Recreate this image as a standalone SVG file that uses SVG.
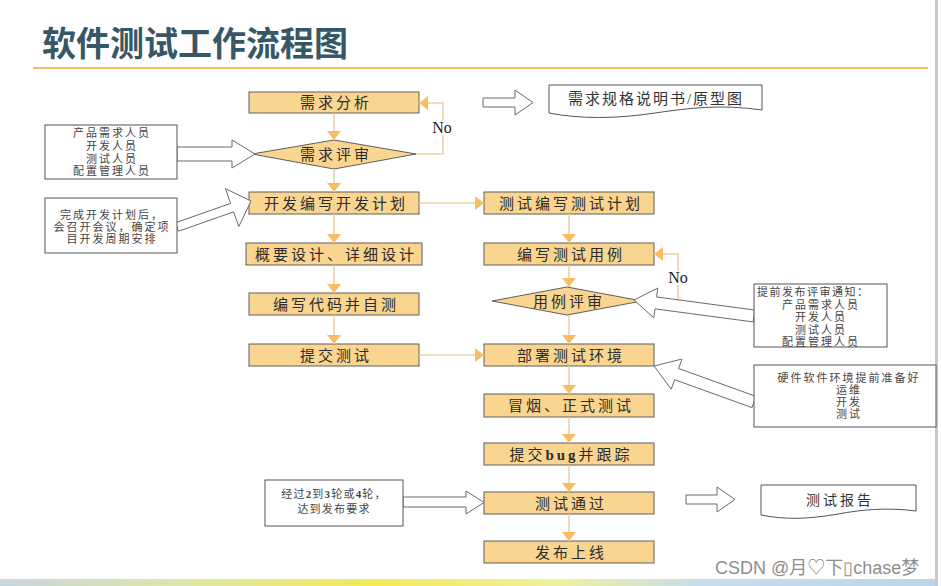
<svg xmlns="http://www.w3.org/2000/svg" width="941" height="586" viewBox="0 0 941 586">
<defs>
<linearGradient id="bar" x1="0" x2="1" y1="0" y2="0">
<stop offset="0" stop-color="#c8d5dd"/>
<stop offset="0.2" stop-color="#dfe6a8"/>
<stop offset="0.4" stop-color="#f3ea55"/>
<stop offset="0.6" stop-color="#eef0a0"/>
<stop offset="0.75" stop-color="#c7dcec"/>
<stop offset="1" stop-color="#bcd3ea"/>
</linearGradient>
<marker id="ah" viewBox="0 0 9 14" refX="9" refY="7" markerWidth="9" markerHeight="14" markerUnits="userSpaceOnUse" orient="auto">
<path d="M0,0 L9,7 L0,14 z" fill="#f9bc63"/>
</marker>
</defs>
<style>
.box{fill:#fad590;stroke:#5e5e5e;stroke-width:1}
.lbl{font-family:"Liberation Serif","Noto Sans CJK SC",serif;font-size:15px;fill:#2b2b2b;text-anchor:middle;letter-spacing:3px}
.note{fill:#fff;stroke:#555;stroke-width:1}
.nt{font-family:"Liberation Serif","Noto Sans CJK SC",serif;font-size:11px;fill:#444;text-anchor:middle;letter-spacing:2px}
.blk{fill:#fff;stroke:#6a6a6a;stroke-width:1}
.con{fill:none;stroke:#edd0a6;stroke-width:1.6}
.no{font-family:"Liberation Serif",serif;font-size:16px;fill:#222;text-anchor:middle}
</style>
<rect x="0" y="0" width="941" height="586" fill="#fff"/>
<rect x="935" y="0" width="3" height="586" fill="#c8c8c8"/>
<rect x="0" y="579" width="935" height="7" fill="url(#bar)"/>
<g id="title">
<text x="42" y="56" font-family="Noto Sans CJK SC, sans-serif" font-size="34" font-weight="bold" fill="#355766">软件测试工作流程图</text>
<line x1="33" y1="68" x2="928" y2="68" stroke="#f0a632" stroke-width="1.5"/>
</g>
<g id="n1"><rect class="box" x="249" y="92" width="170" height="21"/><text class="lbl" x="336" y="108">需求分析</text></g>
<g id="d1"><polygon class="box" points="252,154 334,140 416,154 334,169"/><text class="lbl" x="336" y="159.5">需求评审</text></g>
<g id="n2"><rect class="box" x="249" y="192" width="170" height="22"/><text class="lbl" x="336" y="208.5">开发编写开发计划</text></g>
<g id="n3"><rect class="box" x="246" y="243" width="176" height="22"/><text class="lbl" x="336" y="259.5">概要设计、详细设计</text></g>
<g id="n4"><rect class="box" x="249" y="293" width="170" height="22"/><text class="lbl" x="336" y="309.5">编写代码并自测</text></g>
<g id="n5"><rect class="box" x="249" y="344" width="170" height="22"/><text class="lbl" x="336" y="360.5">提交测试</text></g>
<g id="r1"><rect class="box" x="484" y="192" width="170" height="22"/><text class="lbl" x="571" y="208.5">测试编写测试计划</text></g>
<g id="r2"><rect class="box" x="484" y="243" width="170" height="22"/><text class="lbl" x="571" y="259.5">编写测试用例</text></g>
<g id="d2"><polygon class="box" points="492,301 567,287 642,301 567,315"/><text class="lbl" x="569" y="306.5">用例评审</text></g>
<g id="r3"><rect class="box" x="484" y="344" width="170" height="22"/><text class="lbl" x="571" y="360.5">部署测试环境</text></g>
<g id="r4"><rect class="box" x="484" y="394" width="170" height="23"/><text class="lbl" x="571" y="411">冒烟、正式测试</text></g>
<g id="r5"><rect class="box" x="484" y="443" width="170" height="22"/><text class="lbl" x="571" y="459.5">提交<tspan font-weight="bold">bug</tspan>并跟踪</text></g>
<g id="r6"><rect class="box" x="484" y="492" width="170" height="22"/><text class="lbl" x="571" y="508.5">测试通过</text></g>
<g id="r7"><rect class="box" x="484" y="541" width="170" height="22"/><text class="lbl" x="571" y="557.5">发布上线</text></g>
<g id="connectors">
<path class="con" d="M334,113 V140" marker-end="url(#ah)"/>
<path class="con" d="M334,169 V192" marker-end="url(#ah)"/>
<path class="con" d="M334,214 V243" marker-end="url(#ah)"/>
<path class="con" d="M334,265 V293" marker-end="url(#ah)"/>
<path class="con" d="M334,315 V344" marker-end="url(#ah)"/>
<path class="con" d="M569,214 V243" marker-end="url(#ah)"/>
<path class="con" d="M569,265 V287" marker-end="url(#ah)"/>
<path class="con" d="M569,315 V344" marker-end="url(#ah)"/>
<path class="con" d="M569,366 V394" marker-end="url(#ah)"/>
<path class="con" d="M569,417 V443" marker-end="url(#ah)"/>
<path class="con" d="M569,465 V492" marker-end="url(#ah)"/>
<path class="con" d="M569,514 V541" marker-end="url(#ah)"/>
<path class="con" d="M419,203 H484" marker-end="url(#ah)"/>
<path class="con" d="M419,355 H484" marker-end="url(#ah)"/>
<path class="con" d="M416,154 H443 V103 H419" marker-end="url(#ah)"/>
<path class="con" d="M642,301 H678 V254 H654" marker-end="url(#ah)"/>
<rect x="431" y="121" width="23" height="14" fill="#fff"/>
<text class="no" x="442" y="133">No</text>
<rect x="667" y="271" width="23" height="14" fill="#fff"/>
<text class="no" x="678" y="283">No</text>
<polygon class="blk" points="177,147 232,147 232,140 255,154 232,168 232,161 177,161"/>
<polygon class="blk" points="178.5,231.2 233.6,211.9 238.8,226.5 251,201 225.5,188.7 230.6,203.4 175.5,222.8"/>
<polygon class="blk" points="483,98 515,98 515,90 533,102.5 515,115 515,107 483,107"/>
<polygon class="blk" points="686,495 717,495 717,487 735,499.5 717,512 717,504 686,504"/>
<polygon class="blk" points="403,497 466,497 466,491 484,502.5 466,514 466,507 403,507"/>
<polygon class="blk" points="754.8,310.05 656.6,296.96 657.8,288 634,300 653.8,317.8 655,308.85 753.2,321.95"/>
<polygon class="blk" points="756,396.4 678.6,368.5 682,359.05 654,366 671.2,389.2 674.6,379.7 752,407.6"/>
</g>
<g id="doc1"><path class="note" d="M549,85 H762 V110 C720,104 690,108 655,113 C615,119 580,119 549,113 Z"/><text class="lbl" x="656" y="103.5" style="font-size:15px;letter-spacing:2px;fill:#333">需求规格说明书/原型图</text></g>
<g id="doc2"><path class="note" d="M761,485 H916 V511 C885,507 860,510 838,514 C810,519 785,520 761,515 Z"/><text class="lbl" x="840" y="505" style="font-size:14px;fill:#333">测试报告</text></g>
<g id="L1"><rect class="note" x="45" y="125" width="132" height="54"/>
<text class="nt" x="112" y="137">产品需求人员</text><text class="nt" x="112" y="150">开发人员</text><text class="nt" x="112" y="163">测试人员</text><text class="nt" x="112" y="175">配置管理人员</text></g>
<g id="L2"><rect class="note" x="45" y="198" width="132" height="55"/>
<text class="nt" x="112" y="219">完成开发计划后，</text><text class="nt" x="112" y="231">会召开会议，确定项</text><text class="nt" x="112" y="243">目开发周期安排</text></g>
<g id="R1"><rect class="note" x="754" y="284" width="133" height="63"/>
<text class="nt" x="757" y="296" style="text-anchor:start;letter-spacing:1.5px">提前发布评审通知：</text>
<text class="nt" x="821" y="308.5">产品需求人员</text><text class="nt" x="821" y="321">开发人员</text><text class="nt" x="821" y="333.5">测试人员</text><text class="nt" x="821" y="346">配置管理人员</text></g>
<g id="R2"><rect class="note" x="754" y="365" width="182" height="62"/>
<text class="nt" x="849" y="382">硬件软件环境提前准备好</text><text class="nt" x="849" y="394">运维</text><text class="nt" x="849" y="406">开发</text><text class="nt" x="849" y="418">测试</text></g>
<g id="B1"><rect class="note" x="265" y="480" width="138" height="46"/>
<text class="nt" x="334" y="498" style="letter-spacing:1.2px">经过<tspan font-weight="bold">2</tspan>到<tspan font-weight="bold">3</tspan>轮或<tspan font-weight="bold">4</tspan>轮，</text>
<text class="nt" x="334" y="513" style="letter-spacing:1.2px">达到发布要求</text></g>
<text x="715" y="574" font-family="Liberation Sans, Noto Sans CJK SC, sans-serif" font-size="18" fill="#8e8e8e">CSDN @月♡下▯chase梦</text>
</svg>
